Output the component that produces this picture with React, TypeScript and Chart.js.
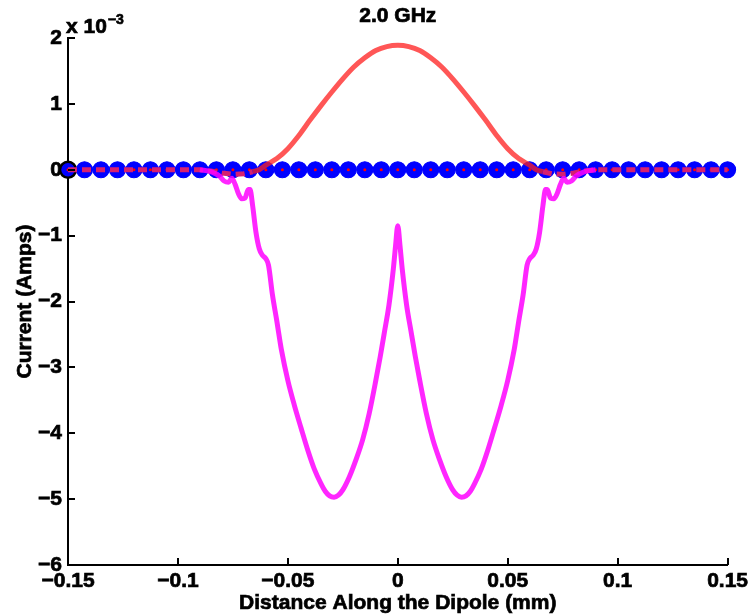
import React, { useEffect, useRef } from 'react';
import { Chart, registerables } from 'chart.js';

Chart.register(...registerables);

// ---- Data (current in units of 1e-3 A, distance in mm) ----
const xTickValues = [-0.15, -0.1, -0.05, 0, 0.05, 0.1, 0.15];
const xTickLabels = ['\u22120.15', '\u22120.1', '\u22120.05', '0', '0.05', '0.1', '0.15'];
const yTickValues = [-6, -5, -4, -3, -2, -1, 0, 1, 2];
const yTickLabels = ['\u22126', '\u22125', '\u22124', '\u22123', '\u22122', '\u22121', '0', '1', '2'];

const markerX = [
  -0.15, -0.1425, -0.135, -0.1275, -0.12, -0.1125, -0.105, -0.0975, -0.09, -0.0825,
  -0.075, -0.0675, -0.06, -0.0525, -0.045, -0.0375, -0.03, -0.0225, -0.015, -0.0075,
  0,
  0.0075, 0.015, 0.0225, 0.03, 0.0375, 0.045, 0.0525, 0.06, 0.0675, 0.075,
  0.0825, 0.09, 0.0975, 0.105, 0.1125, 0.12, 0.1275, 0.135, 0.1425, 0.15,
];
const markerY = [
  0, 0, 0, 0, 0, 0, 0, 0, 0, 0,
  0, 0, 0, 0, 0, 0, 0, 0, 0, 0,
  0,
  0, 0, 0, 0, 0, 0, 0, 0, 0, 0,
  0, 0, 0, 0, 0, 0, 0, 0, 0, 0,
];

const redX = [
  -0.066, -0.063, -0.06, -0.055, -0.05, -0.045, -0.04, -0.035, -0.03, -0.025, -0.02, -0.015, -0.01, -0.005,
  0,
  0.005, 0.01, 0.015, 0.02, 0.025, 0.03, 0.035, 0.04, 0.045, 0.05, 0.055, 0.06, 0.063, 0.066,
];
const redY = [
  -0.03, 0.0, 0.07, 0.17, 0.32, 0.52, 0.75, 0.97, 1.18, 1.38, 1.56, 1.7, 1.81, 1.87,
  1.89,
  1.87, 1.81, 1.7, 1.56, 1.38, 1.18, 0.97, 0.75, 0.52, 0.32, 0.17, 0.07, 0.0, -0.03,
];

const dashX = [
  -0.15, -0.12, -0.09, -0.085, -0.08, -0.075, -0.07, -0.066,
  0,
  0.066, 0.07, 0.075, 0.08, 0.085, 0.09, 0.12, 0.15,
];
const dashY = [
  0, 0, 0, -0.02, -0.05, -0.07, -0.06, -0.03,
  null,
  -0.03, -0.06, -0.07, -0.05, -0.02, 0, 0, 0,
];

const magX = [
  -0.09, -0.085, -0.081, -0.079, -0.077, -0.0755, -0.074, -0.0725, -0.071, -0.0695,
  -0.068, -0.0672, -0.066, -0.0645, -0.063, -0.0615, -0.06, -0.0588, -0.057, -0.055,
  -0.0535, -0.053, -0.05, -0.047, -0.044, -0.041, -0.038, -0.035, -0.033, -0.031,
  -0.029, -0.027, -0.025, -0.022, -0.019, -0.016, -0.013, -0.01, -0.008, -0.006, -0.004,
  -0.002, -0.001,
  0,
  0.001, 0.002, 0.004, 0.006, 0.008, 0.01, 0.013, 0.016, 0.019, 0.022,
  0.025, 0.027, 0.029, 0.031, 0.033, 0.035, 0.038, 0.041, 0.044, 0.047, 0.05,
  0.053, 0.0535, 0.055, 0.057, 0.0588, 0.06, 0.0615, 0.063, 0.0645, 0.066,
  0.0672, 0.068, 0.0695, 0.071, 0.0725, 0.074, 0.0755, 0.077, 0.079, 0.081,
  0.085, 0.09,
];
const magY = [
  0, -0.03, -0.1, -0.17, -0.19, -0.13, -0.22, -0.36, -0.44, -0.43,
  -0.3, -0.3, -0.55, -0.95, -1.2, -1.3, -1.35, -1.45, -1.9, -2.3,
  -2.62, -2.72, -3.2, -3.58, -3.92, -4.25, -4.54, -4.76, -4.88, -4.95,
  -4.97, -4.94, -4.86, -4.66, -4.4, -4.1, -3.7, -3.2, -2.84, -2.45, -2.05,
  -1.5, -1.15,
  -0.85,
  -1.15, -1.5, -2.05, -2.45, -2.84, -3.2, -3.7, -4.1, -4.4, -4.66,
  -4.86, -4.94, -4.97, -4.95, -4.88, -4.76, -4.54, -4.25, -3.92, -3.58, -3.2,
  -2.72, -2.62, -2.3, -1.9, -1.45, -1.35, -1.3, -1.2, -0.95, -0.55,
  -0.3, -0.3, -0.43, -0.44, -0.36, -0.22, -0.13, -0.19, -0.17, -0.1,
  -0.03, 0,
];

const FONT = "'Liberation Sans', Arial, Helvetica, sans-serif";

function pts(xs: number[], ys: (number | null)[]) {
  return xs.map((x, i) => ({ x, y: ys[i] }));
}

export default function App() {
  const ref = useRef<HTMLCanvasElement>(null);

  useEffect(() => {
    const canvas = ref.current;
    if (!canvas) return;

    const inwardTicks = {
      id: 'inwardTicks',
      afterDraw(chart: any) {
        const { ctx, chartArea } = chart;
        const xs = chart.scales.x;
        const ys = chart.scales.y;
        ctx.save();
        ctx.strokeStyle = '#000';
        ctx.lineWidth = 2;
        ctx.beginPath();
        xTickValues.forEach((v) => {
          const px = Math.round(xs.getPixelForValue(v));
          ctx.moveTo(px, chartArea.bottom);
          ctx.lineTo(px, chartArea.bottom - 7);
        });
        yTickValues.forEach((v) => {
          const py = Math.round(ys.getPixelForValue(v));
          ctx.moveTo(chartArea.left, py);
          ctx.lineTo(chartArea.left + 7, py);
        });
        ctx.stroke();
        ctx.restore();
      },
    };

    const texts = {
      id: 'texts',
      afterDraw(chart: any) {
        const { ctx, chartArea } = chart;
        const cx = (chartArea.left + chartArea.right) / 2;
        const cy = (chartArea.top + chartArea.bottom) / 2;
        const put = (t: string, x: number, y: number) => {
          ctx.strokeText(t, x, y);
          ctx.fillText(t, x, y);
        };
        ctx.save();
        ctx.fillStyle = '#000';
        ctx.strokeStyle = '#000';
        ctx.lineWidth = 0.7;
        ctx.textAlign = 'center';
        ctx.textBaseline = 'middle';
        ctx.font = `bold 21px ${FONT}`;
        put('2.0 GHz', cx, 16);

        ctx.font = `bold 21px ${FONT}`;
        put('Distance Along the Dipole (mm)', cx, 603);

        ctx.save();
        ctx.translate(25, cy);
        ctx.rotate(-Math.PI / 2);
        put('Current (Amps)', 0, 0);
        ctx.restore();

        ctx.textAlign = 'left';
        ctx.textBaseline = 'alphabetic';
        ctx.font = `bold 21px ${FONT}`;
        const base = 'x 10';
        put(base, 66, 33);
        const w = ctx.measureText(base).width;
        ctx.font = `bold 14px ${FONT}`;
        put('\u22123', 66 + w + 1, 24);
        ctx.restore();
      },
    };

    const tickFont = { family: FONT, size: 21, weight: 'bold' as const };

    const chart = new Chart(canvas, {
      type: 'scatter',
      data: {
        datasets: [
          {
            label: 'imag',
            data: pts(magX, magY),
            showLine: true,
            borderColor: 'rgba(255,0,255,0.85)',
            borderWidth: 5,
            pointRadius: 0,
            cubicInterpolationMode: 'monotone',
            order: 0,
            clip: false,
          },
          {
            label: 'dashed',
            data: pts(dashX, dashY),
            showLine: true,
            spanGaps: false,
            borderColor: 'rgb(214,32,112)',
            borderWidth: 5,
            borderDash: [9, 5],
            pointRadius: 0,
            order: 1,
            clip: false,
          },
          {
            label: 'real',
            data: pts(redX, redY),
            showLine: true,
            borderColor: 'rgba(255,30,30,0.75)',
            borderWidth: 5,
            pointRadius: 0,
            tension: 0.3,
            order: 2,
            clip: false,
          },
          {
            label: 'dots',
            data: pts(markerX, markerY),
            showLine: false,
            pointRadius: 1.5,
            pointBackgroundColor: '#ff0000',
            pointBorderWidth: 0,
            order: 3,
            clip: false,
          },
          {
            label: 'markers',
            data: pts(markerX, markerY),
            showLine: false,
            pointRadius: 8,
            pointBackgroundColor: '#0000ff',
            pointBorderColor: markerX.map((_, i) => (i === 0 ? '#000000' : '#0000ff')),
            pointBorderWidth: markerX.map((_, i) => (i === 0 ? 2.5 : 1.2)),
            order: 4,
            clip: false,
          },
        ],
      },
      options: {
        responsive: false,
        devicePixelRatio: 1,
        animation: false,
        events: [],
        layout: { padding: { top: 38, right: 19, left: 0, bottom: 0 } },
        plugins: {
          legend: { display: false },
          tooltip: { enabled: false },
          title: { display: false },
        },
        scales: {
          x: {
            type: 'linear',
            min: -0.15,
            max: 0.15,
            afterBuildTicks: (s: any) => {
              s.ticks = xTickValues.map((v) => ({ value: v }));
            },
            afterFit: (s: any) => {
              s.height = 50;
            },
            ticks: {
              callback: (v: any) => xTickLabels[xTickValues.indexOf(Number(v))] ?? '',
              font: tickFont,
              color: '#000',
              textStrokeColor: '#000',
              textStrokeWidth: 0.7,
              padding: 4,
              maxRotation: 0,
              autoSkip: false,
            },
            grid: { display: true, drawOnChartArea: false, drawTicks: false },
            border: { display: true, color: '#000', width: 2 },
          },
          y: {
            type: 'linear',
            min: -6,
            max: 2,
            afterBuildTicks: (s: any) => {
              s.ticks = yTickValues.map((v) => ({ value: v }));
            },
            afterFit: (s: any) => {
              s.width = 68;
            },
            ticks: {
              callback: (v: any) => yTickLabels[yTickValues.indexOf(Number(v))] ?? '',
              font: tickFont,
              color: '#000',
              textStrokeColor: '#000',
              textStrokeWidth: 0.7,
              padding: 6,
              autoSkip: false,
            },
            grid: { display: true, drawOnChartArea: false, drawTicks: false },
            border: { display: true, color: '#000', width: 2 },
          },
        },
      } as any,
      plugins: [inwardTicks, texts],
    });

    return () => chart.destroy();
  }, []);

  return (
    <div style={{ position: 'absolute', left: 0, top: 0, width: 752, height: 615, background: '#fff' }}>
      <canvas ref={ref} width={752} height={615} style={{ display: 'block' }} />
    </div>
  );
}
